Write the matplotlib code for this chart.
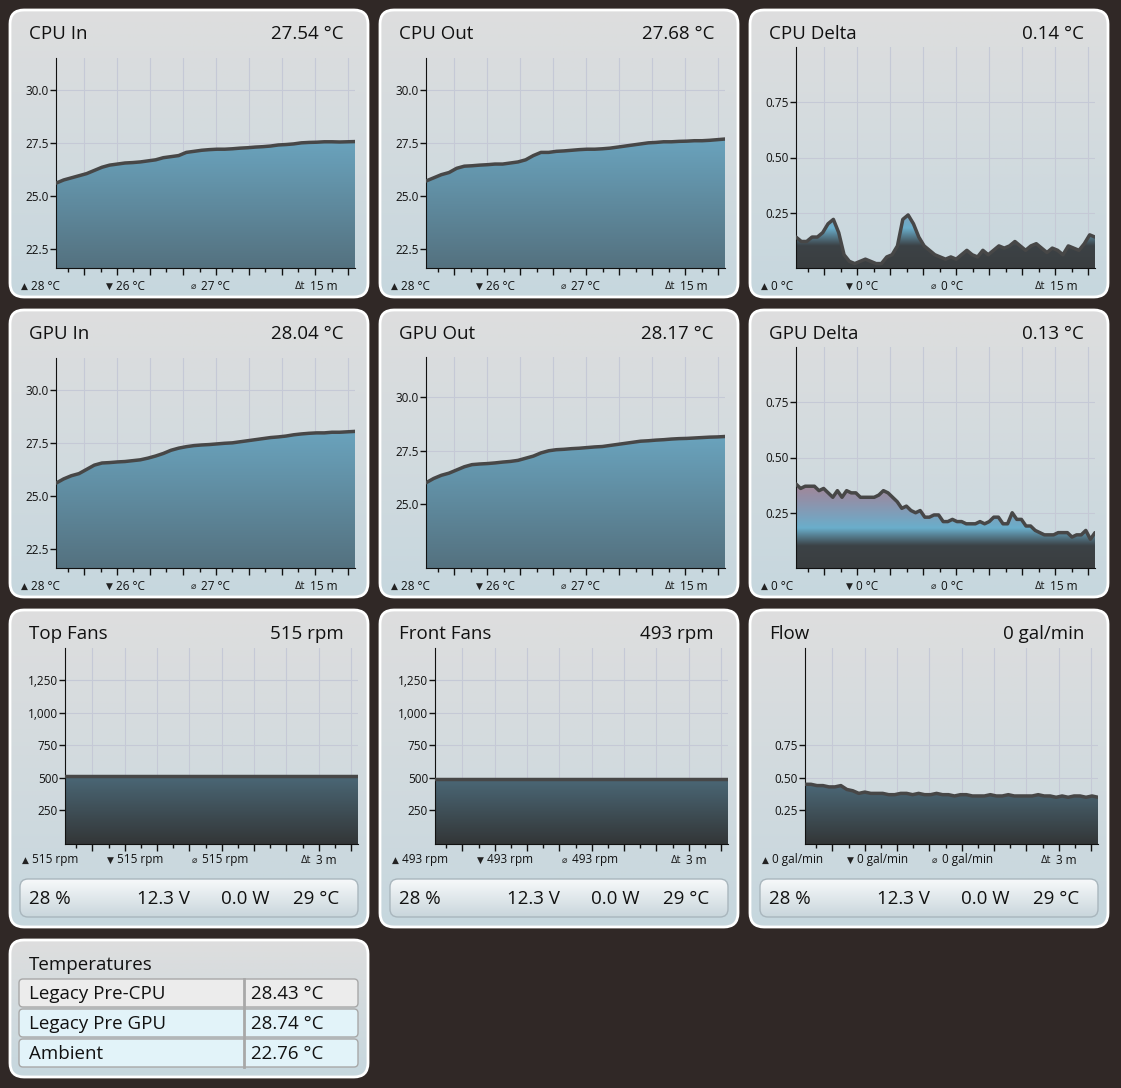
import numpy as np
import matplotlib
matplotlib.use("Agg")
import matplotlib.pyplot as plt
from matplotlib.patches import FancyBboxPatch, Rectangle
from matplotlib.colors import LinearSegmentedColormap

plt.rcParams['font.family'] = ['Open Sans', 'DejaVu Sans']

cpu_in = [25.6,25.75,25.85,25.95,26.05,26.2,26.35,26.45,26.5,26.55,26.57,26.6,26.65,26.7,26.8,26.85,26.9,27.05,27.1,27.15,27.18,27.2,27.2,27.22,27.25,27.27,27.3,27.32,27.35,27.4,27.42,27.45,27.5,27.52,27.53,27.55,27.55,27.54,27.55,27.56]
cpu_out = [25.7,25.85,26.0,26.1,26.3,26.4,26.42,26.45,26.47,26.5,26.5,26.55,26.6,26.7,26.9,27.05,27.05,27.1,27.12,27.15,27.18,27.2,27.2,27.22,27.25,27.3,27.35,27.4,27.45,27.5,27.52,27.55,27.55,27.57,27.58,27.6,27.6,27.62,27.65,27.68]
cpu_delta = [0.14,0.12,0.12,0.14,0.14,0.16,0.2,0.22,0.16,0.06,0.03,0.02,0.03,0.04,0.03,0.02,0.02,0.05,0.06,0.1,0.22,0.24,0.2,0.14,0.1,0.08,0.06,0.05,0.04,0.05,0.04,0.06,0.08,0.06,0.05,0.08,0.06,0.08,0.1,0.09,0.1,0.12,0.1,0.08,0.1,0.11,0.09,0.07,0.09,0.08,0.06,0.1,0.09,0.08,0.11,0.15,0.14]
gpu_in = [25.6,25.8,25.95,26.05,26.25,26.45,26.55,26.57,26.6,26.62,26.66,26.7,26.78,26.88,27.0,27.15,27.25,27.32,27.37,27.4,27.42,27.45,27.48,27.5,27.55,27.6,27.65,27.7,27.75,27.78,27.82,27.88,27.92,27.95,27.97,27.97,28.0,28.0,28.02,28.04]
gpu_out = [26.0,26.2,26.35,26.45,26.6,26.75,26.85,26.88,26.9,26.93,26.97,27.0,27.05,27.15,27.25,27.4,27.5,27.55,27.57,27.6,27.62,27.65,27.68,27.7,27.75,27.8,27.85,27.9,27.95,27.97,28.0,28.02,28.05,28.07,28.08,28.1,28.12,28.14,28.15,28.17]
gpu_delta = [0.38,0.36,0.37,0.37,0.37,0.35,0.36,0.34,0.32,0.35,0.32,0.35,0.34,0.34,0.32,0.32,0.32,0.32,0.33,0.35,0.34,0.32,0.30,0.27,0.28,0.26,0.25,0.26,0.23,0.23,0.24,0.24,0.21,0.21,0.22,0.21,0.21,0.2,0.2,0.2,0.21,0.2,0.21,0.23,0.23,0.2,0.2,0.25,0.22,0.22,0.19,0.19,0.17,0.16,0.15,0.15,0.15,0.16,0.16,0.16,0.14,0.15,0.15,0.17,0.13,0.16]
top_fans = [515]*40
front_fans = [493]*40
flow = [0.45,0.45,0.44,0.44,0.43,0.43,0.44,0.41,0.40,0.38,0.39,0.38,0.38,0.38,0.37,0.37,0.38,0.38,0.37,0.38,0.37,0.37,0.38,0.37,0.37,0.36,0.37,0.37,0.36,0.36,0.36,0.37,0.36,0.36,0.37,0.36,0.36,0.36,0.36,0.37,0.36,0.36,0.35,0.36,0.35,0.36,0.36,0.35,0.36,0.35]

temp_ticks = [22.5, 25.0, 27.5, 30.0]
delta_ticks = [0.25, 0.5, 0.75]
fan_ticks = [250, 500, 750, 1000, 1250]

W, H = 1121, 1088
fig = plt.figure(figsize=(W/100, H/100), dpi=100, facecolor='#302826')
bg = fig.add_axes([0, 0, 1, 1])
bg.set_xlim(0, W); bg.set_ylim(H, 0); bg.axis('off')

card_cmap = LinearSegmentedColormap.from_list('card', ['#dedede', '#c6d7de'])
blue_cmap = LinearSegmentedColormap.from_list('blue', ['#54717f', '#6aa3bd'])
fan_cmap = LinearSegmentedColormap.from_list('fan', ['#333637', '#4b6877'])
delta_cmap = LinearSegmentedColormap.from_list('delta', [(0, '#3a3e40'), (0.1, '#3c4246'), (0.18, '#6aaecb'), (0.3, '#8f92ab'), (0.4, '#a88392'), (1, '#a88392')])
bar_cmap = LinearSegmentedColormap.from_list('bar', ['#f7f9fa', '#c9d6dc'])

def card(x, y, w, h, cmap=card_cmap):
    p = FancyBboxPatch((x, y), w, h, boxstyle="round,pad=0,rounding_size=14",
                       fc='none', ec='white', lw=2, zorder=3)
    bg.add_patch(p)
    grad = np.linspace(0, 1, 256).reshape(-1, 1)
    im = bg.imshow(grad, extent=[x, x+w, y+h, y], cmap=cmap, aspect='auto', zorder=1, origin='upper')
    im.set_clip_path(p)

cols = [10, 380, 750]
rows = [10, 310, 610]
heights = [287, 287, 317]

def make_ax(x0, y0, x1, y1):
    return fig.add_axes([x0/W, 1-y1/H, (x1-x0)/W, (y1-y0)/H], facecolor='none')

def chart(ax, data, ylim, yticks, fmt, kind):
    n = len(data)
    x = np.arange(n)
    ax.set_xlim(0, n-1); ax.set_ylim(*ylim)
    span = n-1
    major = [(28+33*k)/299*span for k in range(9)]
    minor = [(11.5+16.5*k)/299*span for k in range(18)]
    ax.set_xticks(major); ax.set_xticks(minor, minor=True)
    ax.set_xticklabels([])
    ax.tick_params(axis='x', which='major', length=5, width=1, direction='out', color='#111')
    ax.tick_params(axis='x', which='minor', length=3, width=1, direction='out', color='#111')
    ax.set_yticks(yticks)
    ax.set_yticklabels([fmt(v) for v in yticks], fontsize=8.5, color='#111')
    ax.tick_params(axis='y', length=4, width=1, color='#111', pad=1)
    ax.grid(True, color='#c5c9d6', lw=0.8)
    for s in ['top', 'right']:
        ax.spines[s].set_visible(False)
    for s in ['left', 'bottom']:
        ax.spines[s].set_color('#111')
    poly = ax.fill_between(x, data, ylim[0], color='none', lw=0)
    grad = np.linspace(0, 1, 256).reshape(-1, 1)
    if kind == 'temp':
        cm = blue_cmap; ext = [0, span, ylim[0], max(data)]
    elif kind in ('fan', 'flow'):
        cm = fan_cmap; ext = [0, span, ylim[0], max(data)]
    else:
        cm = delta_cmap; ext = [0, span, 0, 1]
    im = ax.imshow(grad, extent=ext, origin='lower', aspect='auto', cmap=cm, zorder=2)
    im.set_clip_path(poly.get_paths()[0], ax.transData)
    ax.plot(x, data, color='#474747', lw=2.5, zorder=3, solid_capstyle='round')
    ax.set_axisbelow(True)

def tfmt(v): return f"{v:.1f}"
def dfmt(v): return f"{v:.2f}"
def ffmt(v): return f"{v:,.0f}"

panels = [
    ("CPU In", "27.54 °C", cpu_in, (21.6, 31.5), temp_ticks, tfmt, 'temp', ["28 °C", "26 °C", "27 °C", "15 m"]),
    ("CPU Out", "27.68 °C", cpu_out, (21.6, 31.5), temp_ticks, tfmt, 'temp', ["28 °C", "26 °C", "27 °C", "15 m"]),
    ("CPU Delta", "0.14 °C", cpu_delta, (0, 1.0), delta_ticks, dfmt, 'delta', ["0 °C", "0 °C", "0 °C", "15 m"]),
    ("GPU In", "28.04 °C", gpu_in, (21.6, 31.5), temp_ticks, tfmt, 'temp', ["28 °C", "26 °C", "27 °C", "15 m"]),
    ("GPU Out", "28.17 °C", gpu_out, (22.0, 31.9), [25.0, 27.5, 30.0], tfmt, 'temp', ["28 °C", "26 °C", "27 °C", "15 m"]),
    ("GPU Delta", "0.13 °C", gpu_delta, (0, 1.0), delta_ticks, dfmt, 'delta', ["0 °C", "0 °C", "0 °C", "15 m"]),
    ("Top Fans", "515 rpm", top_fans, (-10, 1500), fan_ticks, ffmt, 'fan', ["515 rpm", "515 rpm", "515 rpm", "3 m"]),
    ("Front Fans", "493 rpm", front_fans, (-10, 1500), fan_ticks, ffmt, 'fan', ["493 rpm", "493 rpm", "493 rpm", "3 m"]),
    ("Flow", "0 gal/min", flow, (-0.01, 1.5), delta_ticks, dfmt, 'flow', ["0 gal/min", "0 gal/min", "0 gal/min", "3 m"]),
]
icons = ["▲", "▼", "⌀", "Δt"]

for i, (title, val, data, ylim, yt, fmt, kind, foot) in enumerate(panels):
    r, c = divmod(i, 3)
    cx, cy, ch = cols[c], rows[r], heights[r]
    card(cx, cy, 358, ch)
    bg.text(cx+19, cy+24, title, fontsize=13.5, va='center', ha='left', color='#111', zorder=5)
    bg.text(cx+334, cy+24, val, fontsize=13.5, va='center', ha='right', color='#111', zorder=5)
    if r < 2:
        if kind == 'delta':
            top, bot = cy+37, cy+258
        elif i == 4:
            top, bot = cy+47, cy+258
        else:
            top, bot = cy+48, cy+258
        ax = make_ax(cx+46, top, cx+345, bot)
        fy = bot + 18
    else:
        ax = make_ax(cx+55, cy+38, cx+348, cy+234)
        fy = cy+250
    chart(ax, data, ylim, yt, fmt, kind)
    fxs = [cx+11, cx+96, cx+181, cx+285] if r < 2 else [cx+12, cx+97, cx+182, cx+291]
    for k, (fx, s) in enumerate(zip(fxs, foot)):
        bg.text(fx, fy, icons[k], fontsize=6.5 if k < 3 else 7, va='center', ha='left',
                color='#222', zorder=5, family=['DejaVu Sans'])
        bg.text(fx + (15 if k == 3 else 10), fy, s, fontsize=8.5, va='center', ha='left', color='#111', zorder=5)
    if r == 2:
        bx, by, bw, bh = cx+10, cy+269, 338, 38
        p = FancyBboxPatch((bx, by), bw, bh, boxstyle="round,pad=0,rounding_size=8",
                           fc='none', ec='#a9b6bd', lw=1, zorder=4)
        bg.add_patch(p)
        g = np.linspace(0, 1, 64).reshape(-1, 1)
        im = bg.imshow(g, extent=[bx, bx+bw, by+bh, by], cmap=bar_cmap, aspect='auto', zorder=3, origin='upper')
        im.set_clip_path(p)
        yy = by + bh/2 + 1
        for tx, s, ha in [(bx+9, "28 %", 'left'), (bx+170, "12.3 V", 'right'), (bx+250, "0.0 W", 'right'), (bx+319, "29 °C", 'right')]:
            bg.text(tx, yy, s, fontsize=13.5, va='center', ha=ha, color='#111', zorder=5)

card(10, 940, 358, 137)
bg.text(29, 965, "Temperatures", fontsize=13.5, va='center', color='#111', zorder=5)
trows = [("Legacy Pre-CPU", "28.43 °C", '#ececec'), ("Legacy Pre GPU", "28.74 °C", '#e2f3f9'), ("Ambient", "22.76 °C", '#e2f3f9')]
for j, (name, v, col) in enumerate(trows):
    y = 979 + 30*j
    bg.add_patch(FancyBboxPatch((19, y), 339, 28, boxstyle="round,pad=0,rounding_size=4",
                                fc=col, ec='#a8a8a8', lw=1, zorder=4))
    bg.plot([244, 244], [y, y+28], color='#a8a8a8', lw=2, zorder=5)
    bg.text(29, y+15, name, fontsize=13.5, va='center', color='#111', zorder=6)
    bg.text(251, y+15, v, fontsize=13.5, va='center', color='#111', zorder=6)

fig.savefig("out.png", dpi=100, facecolor=fig.get_facecolor())
